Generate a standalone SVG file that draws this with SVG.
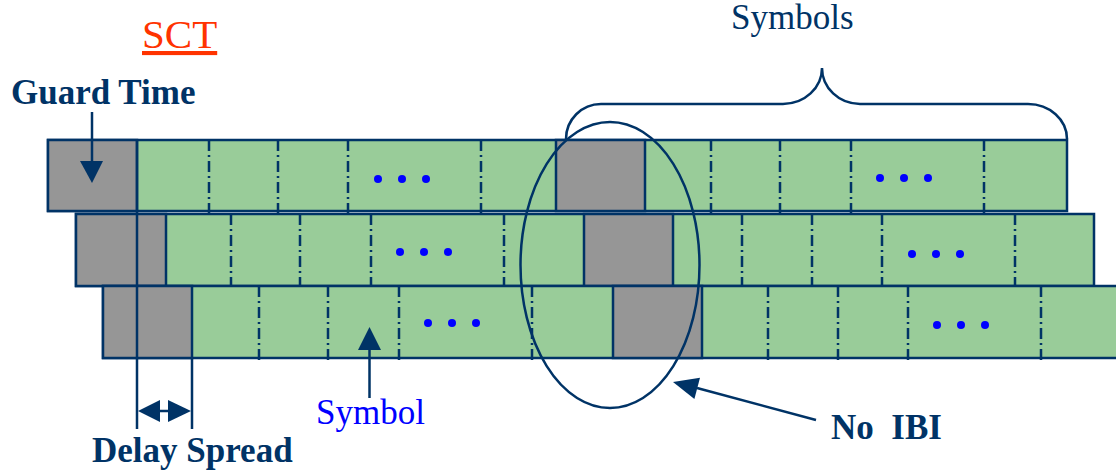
<svg xmlns="http://www.w3.org/2000/svg" width="1116" height="471" viewBox="0 0 1116 471">
  <style>
    .row { fill: #99CC99; stroke: #003366; stroke-width: 2.5; }
    .gt { fill: #969696; stroke: #003366; stroke-width: 2.5; }
    .sep { stroke: #003366; stroke-width: 2.5; stroke-dasharray: 11 4 2 4; fill: none; }
    .ln { stroke: #003366; stroke-width: 2.5; fill: none; }
    .head { fill: #003366; stroke: none; }
    .dot { fill: #0000FF; }
    .lbl { font-family: "Liberation Serif", "Times New Roman", serif; fill: #003366; }
    .bold { font-weight: bold; font-size: 35px; }
  </style>
  <defs>
    <g id="dots">
      <circle class="dot" cx="0" cy="0" r="4"/>
      <circle class="dot" cx="24" cy="0" r="4"/>
      <circle class="dot" cx="48" cy="0" r="4"/>
    </g>
  </defs>

  <!-- Block 1 -->
  <g id="block1">
    <rect class="row" x="48" y="140" width="1019" height="71"/>
    <rect class="gt" x="48" y="140" width="89" height="71"/>
    <rect class="gt" x="556" y="140" width="89" height="71"/>
    <path class="sep" d="M209,140V213 M278,140V213 M348,140V213 M481,140V213 M711,140V213 M780,140V213 M851,140V213 M984,140V213"/>
    <use href="#dots" x="378" y="179"/>
    <use href="#dots" x="880" y="178"/>
  </g>

  <!-- Block 2 -->
  <g id="block2">
    <rect class="row" x="76" y="214" width="1018" height="72"/>
    <rect class="gt" x="76" y="214" width="90" height="72"/>
    <rect class="gt" x="584" y="214" width="89" height="72"/>
    <path class="sep" d="M231,214V289 M300,214V289 M371,214V289 M504,214V289 M742,214V289 M812,214V289 M882,214V289 M1015,214V289"/>
    <use href="#dots" x="400" y="252"/>
    <use href="#dots" x="912" y="254"/>
  </g>

  <!-- Block 3 -->
  <g id="block3">
    <rect class="row" x="103" y="286" width="1020" height="72"/>
    <rect class="gt" x="103" y="286" width="89" height="72"/>
    <rect class="gt" x="613" y="286" width="89" height="72"/>
    <path class="sep" d="M259,286V361 M328,286V361 M399,286V361 M532,286V361 M768,286V361 M838,286V361 M908,286V361 M1041,286V361"/>
    <use href="#dots" x="428" y="323"/>
    <use href="#dots" x="937" y="325"/>
  </g>

  <!-- Labels -->
  <g id="sct">
    <text class="lbl" x="142" y="48" font-size="41" style="fill:#FF3300" text-decoration="underline">SCT</text>
  </g>
  <g id="guard-time">
    <text class="lbl bold" x="11" y="104">Guard Time</text>
  </g>
  <g id="symbols">
    <text class="lbl" x="731" y="29" font-size="35">Symbols</text>
  </g>
  <g id="symbol">
    <text class="lbl" x="316" y="424" font-size="35" style="fill:#0000FF">Symbol</text>
  </g>
  <g id="delay-spread">
    <text class="lbl bold" x="92" y="462">Delay Spread</text>
  </g>
  <g id="no-ibi">
    <text class="lbl bold" x="831" y="439" xml:space="preserve">No  IBI</text>
  </g>

  <!-- Connectors and annotations -->
  <g id="connectors">
    <!-- guard time pointer -->
    <path class="ln" d="M92,112V162"/>
    <polygon class="head" points="80,161 103,161 92,183"/>

    <!-- delay spread span -->
    <path class="ln" d="M137,140V429 M192,358V429 M158,411H170"/>
    <polygon class="head" points="138,411 160,400 160,422"/>
    <polygon class="head" points="191,411 168,400 168,422"/>

    <!-- symbol pointer -->
    <path class="ln" d="M369.5,349V398"/>
    <polygon class="head" points="358,350 381,350 369.5,327"/>

    <!-- brace over one block of symbols -->
    <path class="ln" d="M566,139 A35,35 0 0 1 601,104 L783,104 A39,36 0 0 0 822,68 A38,36 0 0 0 860,104 L1028,104 A39,35 0 0 1 1067,139"/>

    <!-- overlap region -->
    <ellipse class="ln" cx="610" cy="265" rx="89.5" ry="143"/>

    <!-- no IBI pointer -->
    <path class="ln" d="M697,388 L816,420"/>
    <polygon class="head" points="673,382 700,377.8 694.4,399"/>
  </g>
</svg>
